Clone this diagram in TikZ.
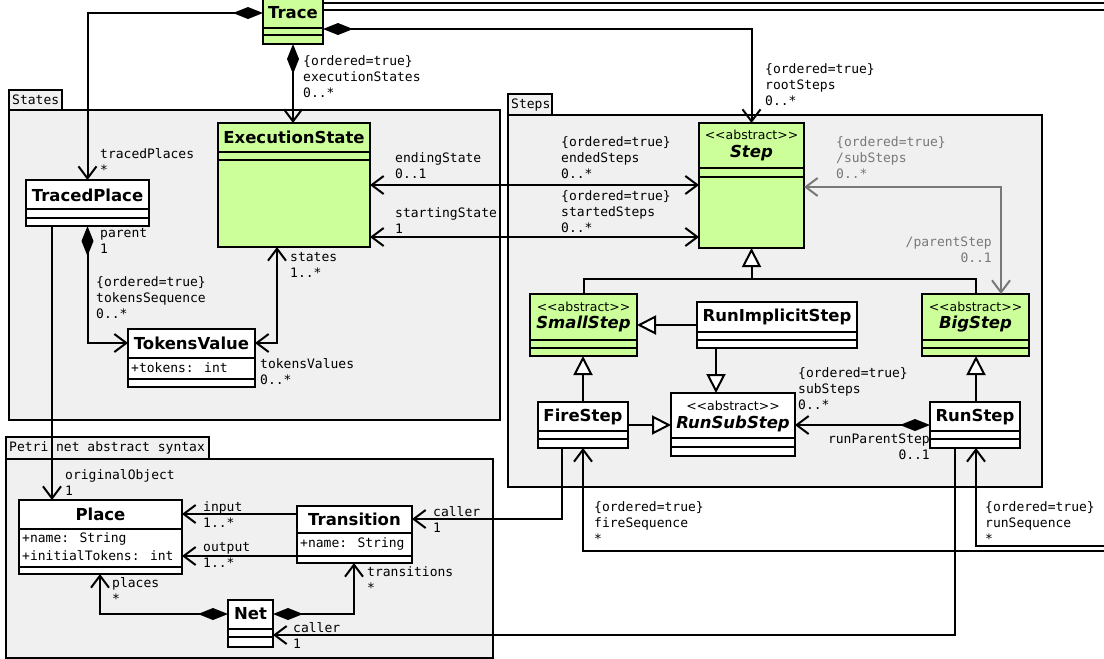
\documentclass[tikz,border=0pt]{standalone}
\usepackage{fontspec}
\setmainfont{DejaVu Sans}
\newfontfamily\monof{DejaVu Sans Mono}
\usetikzlibrary{arrows.meta}
\definecolor{cgreen}{RGB}{204,255,153}
\definecolor{pkgfill}{RGB}{240,240,240}
\definecolor{derived}{RGB}{120,120,120}
\tikzset{
  pkg/.style={draw=black, fill=pkgfill, line width=1.6pt},
  boxshape/.style={draw=black, line width=2pt, inner sep=0pt, outer sep=0pt},
  cname/.style={font=\bfseries\fontsize{16.5}{19}\selectfont, inner sep=0pt},
  aname/.style={font=\bfseries\itshape\fontsize{16.5}{19}\selectfont, inner sep=0pt},
  stereo/.style={font=\fontsize{12.5}{14}\selectfont, inner sep=0pt},
  attr/.style={font=\monof\fontsize{13}{16}\selectfont, inner sep=0pt, anchor=west},
  tabtext/.style={font=\monof\fontsize{13}{16}\selectfont, inner sep=0pt, anchor=west},
  lbl/.style={font=\monof\fontsize{13}{16}\selectfont, inner sep=0pt, align=left, anchor=north west, yshift=5.5pt},
  rlbl/.style={lbl, align=right, anchor=north east},
  conn/.style={line width=2pt},
  nav/.style={conn, -{Straight Barb[length=12pt,width=18pt]}},
  bnav/.style={conn, {Straight Barb[length=12pt,width=18pt]}-{Straight Barb[length=12pt,width=18pt]}},
  comp/.style={conn, {Diamond[length=30pt,width=12pt]}-{Straight Barb[length=12pt,width=18pt]}},
  gen/.style={conn, -{Triangle[open,length=19pt,width=19pt,fill=white]}},
}
\newcommand\umlbox[8]{%
  \node[boxshape, fill=#8, minimum width=#4-#2, minimum height=#5-#3, anchor=north west] (#1) at (#2,#3) {};
  \draw[line width=2pt] (#2,#6) -- (#4,#6) (#2,#7) -- (#4,#7);}
\newcommand\abst{<{}<abstract>{}>}
\begin{document}
\begin{tikzpicture}[x=1pt,y=-1pt]
\useasboundingbox (0,0) rectangle (1104,659);
\clip (0,0) rectangle (1104,659);
% packages
\draw[pkg] (9,90) rectangle (62,110);
\draw[pkg] (9,110) rectangle (500,420);
\node[tabtext] (tStates) at (12,100) {States};
\draw[pkg] (508,94) rectangle (552,115);
\draw[pkg] (508,115) rectangle (1042,487);
\node[tabtext] (tSteps) at (511,105) {Steps};
\draw[pkg] (6,437) rectangle (209,459);
\draw[pkg] (6,459) rectangle (493,658);
\node[tabtext] (tPetri) at (9,448) {Petri net abstract syntax};
% classes
\umlbox{trace}{263}{-1}{323}{44}{28}{35}{cgreen}
\node[cname] (ntrace) at (293,13) {Trace};
\umlbox{execstate}{218}{123}{370}{247}{152}{160}{cgreen}
\node[cname] (nexec) at (294,137) {ExecutionState};
\umlbox{tracedplace}{26}{180}{149}{226}{209}{218}{white}
\node[cname] (ntp) at (87.5,195) {TracedPlace};
\umlbox{tokensvalue}{128}{329}{255}{387}{358}{379}{white}
\node[cname] (ntv) at (191.5,343) {TokensValue};
\node[attr] (atv) at (131,368) {+tokens: int};
\umlbox{step}{699}{123}{804}{248}{168}{177}{cgreen}
\node[stereo] (sstep) at (751.5,135) {\abst};
\node[aname] (nstep) at (751.5,153) {Step};
\umlbox{smallstep}{530}{294}{637}{356}{340}{348}{cgreen}
\node[stereo] (ssmall) at (583.5,307) {\abst};
\node[aname] (nsmall) at (583.5,324) {SmallStep};
\umlbox{bigstep}{922}{294}{1029}{356}{340}{348}{cgreen}
\node[stereo] (sbig) at (975.5,307) {\abst};
\node[aname] (nbig) at (975.5,324) {BigStep};
\umlbox{runimplicit}{697}{302}{857}{348}{332}{340}{white}
\node[cname] (nri) at (777,317) {RunImplicitStep};
\umlbox{runsubstep}{671}{393}{795}{456}{438}{447}{white}
\node[stereo] (srs) at (733,406) {\abst};
\node[aname] (nrs) at (733,424) {RunSubStep};
\umlbox{firestep}{538}{402}{628}{448}{431}{439}{white}
\node[cname] (nfs) at (583,417) {FireStep};
\umlbox{runstep}{930}{402}{1020}{448}{431}{439}{white}
\node[cname] (nrun) at (975,417) {RunStep};
\umlbox{place}{19}{500}{182}{574}{529}{567}{white}
\node[cname] (nplace) at (100.5,514) {Place};
\node[attr] (ap1) at (22,539) {+name: String};
\node[attr] (ap2) at (22,556) {+initialTokens: int};
\umlbox{transition}{297}{506}{412}{563}{533}{556}{white}
\node[cname] (ntr) at (354.5,519) {Transition};
\node[attr] (atr) at (300,544) {+name: String};
\umlbox{net}{228}{600}{273}{647}{629}{637}{white}
\node[cname] (nnet) at (250.5,614) {Net};
% free ends
\coordinate (offA) at (1112,3);
\coordinate (offB) at (1112,10);
\coordinate (offC) at (1112,551);
\coordinate (offD) at (1112,546);
% connectors
\draw[conn] (trace.east |- 0,3) -- (offA);
\draw[conn] (trace.east |- 0,10) -- (offB);
\draw[comp] (trace.west |- 0,13) -| (tracedplace.north);
\draw[comp] (trace.south) -- (trace.south |- execstate.north);
\draw[comp] (trace.east |- 0,29) -| (step.north);
\draw[bnav] (execstate.east |- 0,185) -- (step.west |- 0,185);
\draw[bnav] (execstate.east |- 0,237) -- (step.west |- 0,237);
\draw[bnav, draw=derived] (step.east |- 0,187) -| (bigstep.north -| 1001,0);
\draw[comp] (tracedplace.south) |- (tokensvalue.west |- 0,343);
\draw[bnav] (tokensvalue.east |- 0,343) -| (execstate.south -| 277,0);
\draw[nav] (tracedplace.south -| 52,0) -- (place.north -| 52,0);
\draw[conn] (smallstep.north) |- (bigstep.north |- 0,279) -- (bigstep.north);
\draw[gen] (step.south |- 0,279) -- (step.south);
\draw[gen] (firestep.north) -- (firestep.north |- smallstep.south);
\draw[gen] (runstep.north -| 976,0) -- (bigstep.south -| 976,0);
\draw[gen] (runimplicit.west |- 0,325) -- (smallstep.east |- 0,325);
\draw[gen] (runimplicit.south -| 716,0) -- (runsubstep.north -| 716,0);
\draw[gen] (firestep.east |- 0,425) -- (runsubstep.west |- 0,425);
\draw[comp] (runstep.west |- 0,425) -- (runsubstep.east |- 0,425);
\draw[nav] (firestep.south -| 562,0) |- (transition.east |- 0,519);
\draw[nav] (offC) -| (firestep.south);
\draw[nav] (offD) -| (runstep.south -| 976,0);
\draw[nav] (runstep.south -| 955,0) |- (net.east |- 0,635);
\draw[nav] (transition.west |- 0,514) -- (place.east |- 0,514);
\draw[nav] (transition.west |- 0,556) -- (place.east |- 0,556);
\draw[comp] (net.west |- 0,614) -| (place.south -| 100,0);
\draw[comp] (net.east |- 0,614) -| (transition.south -| 354,0);
% labels
\node[lbl] (l1) at (303,61) {\{ordered=true\}\\executionStates\\0..*};
\node[lbl] (l2) at (765,69) {\{ordered=true\}\\rootSteps\\0..*};
\node[lbl] (l3) at (100,154) {tracedPlaces\\*};
\node[lbl] (l4) at (395,158) {endingState\\0..1};
\node[lbl] (l5) at (561,142) {\{ordered=true\}\\endedSteps\\0..*};
\node[lbl] (l6) at (395,213) {startingState\\1};
\node[lbl] (l7) at (561,196) {\{ordered=true\}\\startedSteps\\0..*};
\node[lbl, text=derived] (l8) at (836,142) {\{ordered=true\}\\/subSteps\\0..*};
\node[rlbl, text=derived] (l9) at (992,242) {/parentStep\\0..1};
\node[lbl] (l10) at (100,234) {parent\\1};
\node[lbl] (l11) at (96,282) {\{ordered=true\}\\tokensSequence\\0..*};
\node[lbl] (l12) at (290,258) {states\\1..*};
\node[lbl] (l13) at (260,364) {tokensValues\\0..*};
\node[lbl] (l14) at (798,373) {\{ordered=true\}\\subSteps\\0..*};
\node[rlbl] (l15) at (930,439) {runParentStep\\0..1};
\node[lbl] (l16) at (594,507) {\{ordered=true\}\\fireSequence\\*};
\node[lbl] (l17) at (985,507) {\{ordered=true\}\\runSequence\\*};
\node[lbl] (l18) at (433,512) {caller\\1};
\node[lbl] (l19) at (293,628) {caller\\1};
\node[lbl] (l20) at (65,475) {originalObject\\1};
\node[lbl] (l21) at (203,507) {input\\1..*};
\node[lbl] (l22) at (203,548) {output\\1..*};
\node[lbl] (l23) at (112,583) {places\\*};
\node[lbl] (l24) at (367,572) {transitions\\*};
\end{tikzpicture}
\end{document}
